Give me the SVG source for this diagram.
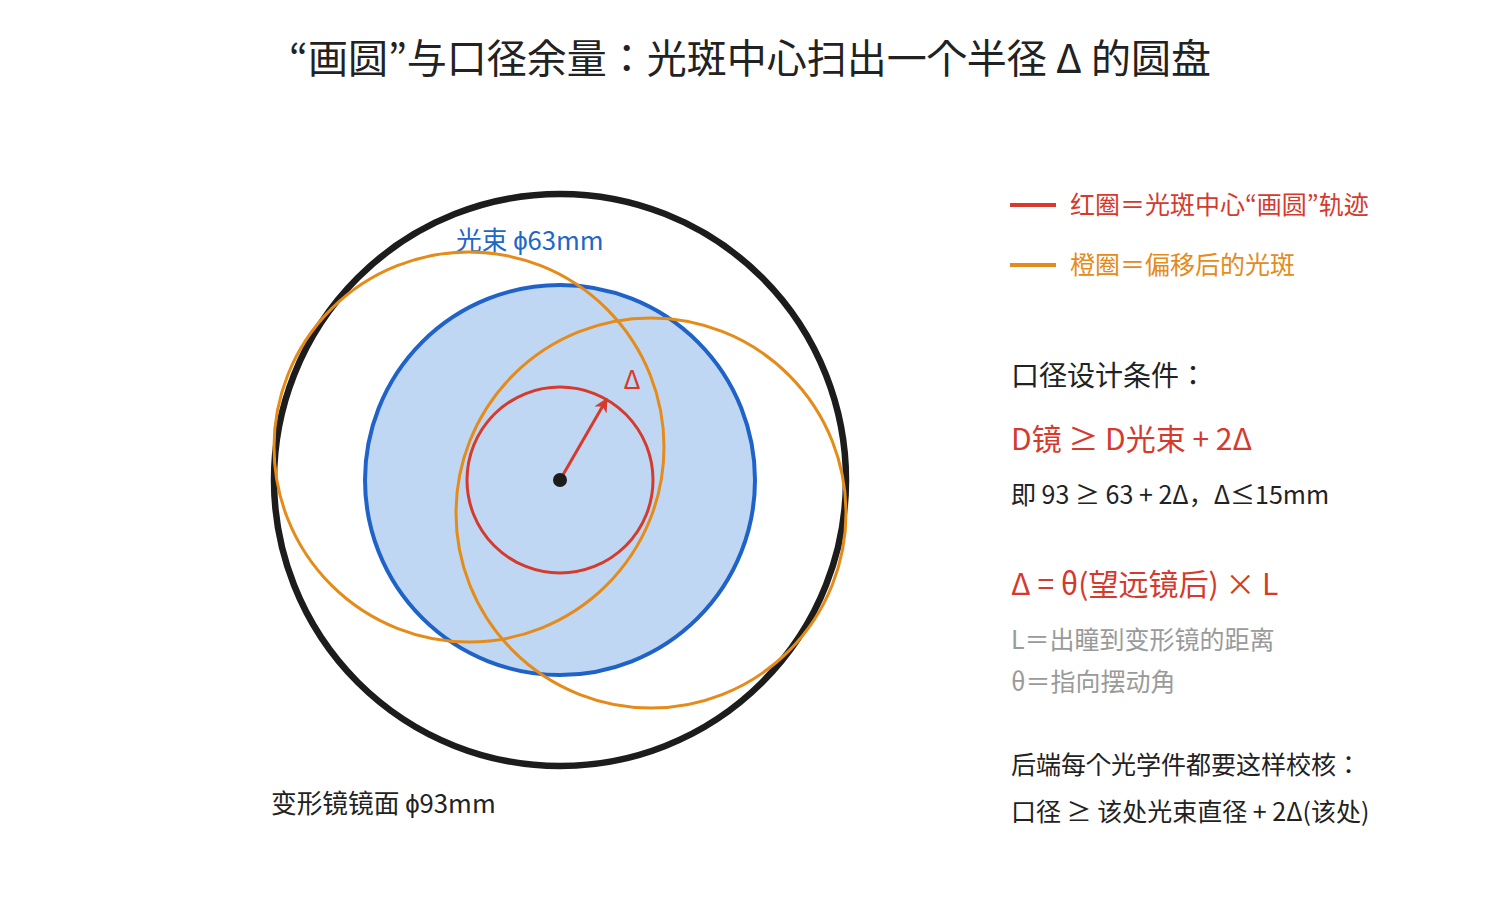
<svg xmlns="http://www.w3.org/2000/svg" width="1500" height="900" viewBox="0 0 1500 900">
  <style>
    text { font-family: "Noto Sans CJK JP", "Noto Sans CJK SC", sans-serif; }
    .title { font-size: 40px; fill: #222222; }
    .dark { fill: #222222; }
    .red { fill: #d63a2c; }
    .orange { fill: #e58b1a; }
    .blue { fill: #2166c8; }
    .gray { fill: #9a9a9a; }
    .s25 { font-size: 25px; }
    .lbl { font-size: 25.7px; }
    .s28 { font-size: 28px; }
    .s30 { font-size: 30px; }
  </style>
  <defs>
    <marker id="arrowRed" markerUnits="userSpaceOnUse" markerWidth="16" markerHeight="16" refX="12" refY="7" orient="auto">
      <path d="M0,0 L14,7 L0,14 L4,7 z" fill="#d63a2c"/>
    </marker>
  </defs>
  <rect width="1500" height="900" fill="#ffffff"/>

  <text class="title" x="750" y="73" text-anchor="middle">“画圆”与口径余量：光斑中心扫出一个半径 Δ 的圆盘</text>

  <g id="mirror">
    <circle cx="560" cy="480" r="286" fill="none" stroke="#1c1c1c" stroke-width="6.5"/>
    <text class="dark lbl" x="271" y="813">变形镜镜面 ϕ93mm</text>
  </g>

  <g id="beam">
    <circle cx="560" cy="480" r="195" fill="#bfd7f2" stroke="#1f63c8" stroke-width="4"/>
    <text class="blue lbl" x="456" y="250">光束 ϕ63mm</text>
  </g>

  <g id="offset-spot-1">
    <circle cx="469" cy="447" r="195" fill="none" stroke="#e58b1a" stroke-width="3"/>
  </g>
  <g id="offset-spot-2">
    <circle cx="651" cy="513" r="195" fill="none" stroke="#e58b1a" stroke-width="3"/>
  </g>

  <g id="trajectory">
    <circle cx="560" cy="480" r="93" fill="none" stroke="#d63a2c" stroke-width="3"/>
    <text class="red" x="632" y="389" font-size="26" text-anchor="middle">Δ</text>
  </g>

  <g id="connectors">
    <line x1="560" y1="480" x2="606.5" y2="399.5" stroke="#d63a2c" stroke-width="3" marker-end="url(#arrowRed)"/>
  </g>

  <g id="center">
    <circle cx="560" cy="480" r="7" fill="#1c1c1c"/>
  </g>

  <g id="legend">
    <line x1="1010" y1="205" x2="1056" y2="205" stroke="#d63a2c" stroke-width="4"/>
    <text class="red s25" x="1070" y="214">红圈＝光斑中心“画圆”轨迹</text>
    <line x1="1010" y1="265" x2="1056" y2="265" stroke="#e58b1a" stroke-width="4"/>
    <text class="orange s25" x="1070" y="274">橙圈＝偏移后的光斑</text>
  </g>

  <g id="notes">
    <text class="dark s28" x="1011" y="386">口径设计条件：</text>
    <text class="red s30" x="1011" y="450">D镜 ≥ D光束 + 2Δ</text>
    <text class="dark s25" x="1011" y="504">即 93 ≥ 63 + 2Δ，Δ≤15mm</text>
    <text class="red s30" x="1011" y="595">Δ = θ(望远镜后) × L</text>
    <text class="gray s25" x="1011" y="649">L＝出瞳到变形镜的距离</text>
    <text class="gray s25" x="1011" y="691">θ＝指向摆动角</text>
    <text class="dark s25" x="1011" y="774">后端每个光学件都要这样校核：</text>
    <text class="dark s25" x="1011" y="821">口径 ≥ 该处光束直径 + 2Δ(该处)</text>
  </g>
</svg>
